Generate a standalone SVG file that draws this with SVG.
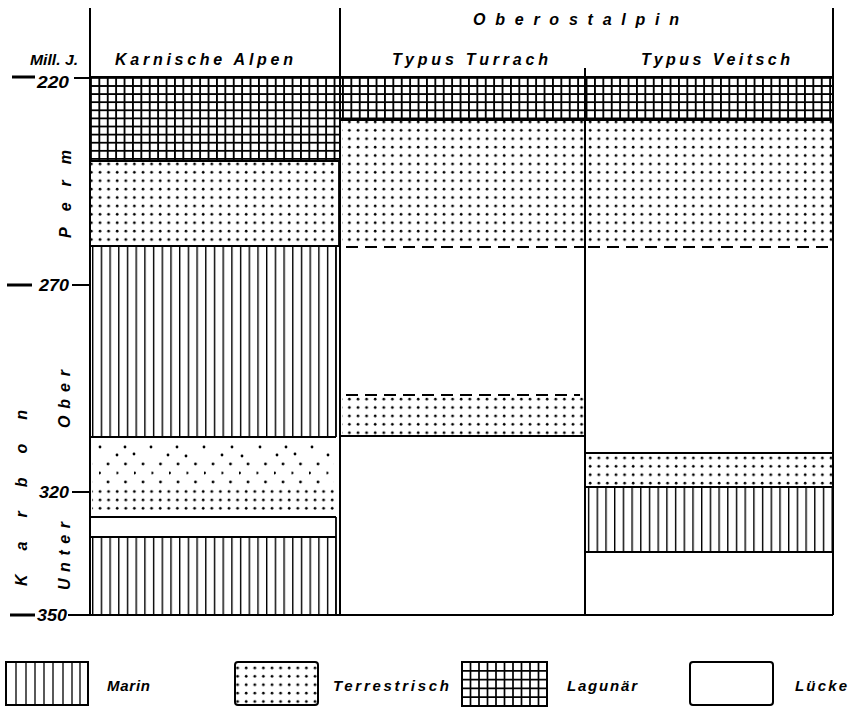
<svg xmlns="http://www.w3.org/2000/svg" width="849" height="707" viewBox="0 0 849 707">
<style>
.t{font-family:"Liberation Sans",Arial,sans-serif;font-weight:bold;font-style:italic;fill:#000}
.ln{stroke:#000;fill:none}
.frame{stroke:#000;stroke-width:2;fill:none}
.bd{stroke:#000;stroke-width:1.8;fill:none}
.dash{stroke:#000;stroke-width:2;stroke-dasharray:12 7;fill:none}
</style>
<defs>
<pattern id="lag" patternUnits="userSpaceOnUse" x="90" y="77" width="8.4" height="8.1">
<rect width="8.4" height="8.1" fill="#fff"/>
<path d="M0.9 0V8.1M0 0.9H8.4" stroke="#000" stroke-width="1.9"/>
</pattern>
<pattern id="mar" patternUnits="userSpaceOnUse" x="92" y="0" width="8.7" height="10">
<rect width="8.7" height="10" fill="#fff"/>
<path d="M0.7 0V10" stroke="#000" stroke-width="1.4"/>
</pattern>
<pattern id="ter" patternUnits="userSpaceOnUse" x="96" y="118" width="8.6" height="8.4">
<rect width="8.6" height="8.4" fill="#fff"/>
<circle cx="4" cy="4" r="1.35" fill="#000"/>
</pattern>
<pattern id="sparse" patternUnits="userSpaceOnUse" x="99" y="460" width="17.5" height="18">
<rect width="17.5" height="18" fill="#fff"/>
<circle cx="9" cy="4" r="1.4" fill="#000"/>
<circle cx="0.5" cy="13" r="1.4" fill="#000"/>
</pattern>
</defs>
<rect width="849" height="707" fill="#fff"/>

<g id="header">
<text class="t" x="30" y="65" font-size="15" textLength="48" lengthAdjust="spacingAndGlyphs">Mill. J.</text>
<text class="t" x="115" y="65" font-size="16" textLength="178" lengthAdjust="spacing">Karnische Alpen</text>
<text class="t" x="473" y="25" font-size="16" textLength="206" lengthAdjust="spacing">Oberostalpin</text>
<text class="t" x="392" y="65" font-size="16" textLength="156" lengthAdjust="spacing">Typus Turrach</text>
<text class="t" x="641" y="65" font-size="16" textLength="149" lengthAdjust="spacing">Typus Veitsch</text>
</g>

<g id="axis">
<path class="ln" stroke-width="3.2" d="M12 77H35M7 285H32M10 615H35"/>
<path class="ln" stroke-width="2.2" d="M74 78H90M72 285H90M72 492H90M68 615H90"/>
<text class="t" x="37" y="88" font-size="17" textLength="32" lengthAdjust="spacingAndGlyphs">220</text>
<text class="t" x="39" y="291" font-size="17" textLength="30" lengthAdjust="spacingAndGlyphs">270</text>
<text class="t" x="39" y="498" font-size="17" textLength="30" lengthAdjust="spacingAndGlyphs">320</text>
<text class="t" x="37" y="621" font-size="17" textLength="30" lengthAdjust="spacingAndGlyphs">350</text>
<text class="t" font-size="16" transform="translate(71 238) rotate(-90)" textLength="88" lengthAdjust="spacing">Perm</text>
<text class="t" font-size="16" transform="translate(27 586) rotate(-90)" textLength="176" lengthAdjust="spacing">Karbon</text>
<text class="t" font-size="16" transform="translate(70 428) rotate(-90)" textLength="58" lengthAdjust="spacing">Ober</text>
<text class="t" font-size="16" transform="translate(70 590) rotate(-90)" textLength="68" lengthAdjust="spacing">Unter</text>
</g>

<g id="col-karnische">
<rect x="90" y="77" width="250" height="84" fill="url(#lag)"/>
<rect x="90" y="161" width="249" height="85" fill="url(#ter)"/>
<rect x="90" y="246" width="246" height="191" fill="url(#mar)"/>
<rect x="90" y="437" width="246" height="80" fill="#fff"/>
<rect x="92" y="460" width="242" height="27" fill="url(#sparse)"/>
<g fill="#000">
<circle cx="100" cy="447" r="1.4"/><circle cx="125" cy="447" r="1.4"/><circle cx="151" cy="447" r="1.4"/><circle cx="177" cy="447" r="1.4"/><circle cx="204" cy="447" r="1.4"/><circle cx="232" cy="447" r="1.4"/><circle cx="260" cy="447" r="1.4"/><circle cx="286" cy="447" r="1.4"/><circle cx="312" cy="447" r="1.4"/>
<circle cx="117" cy="455" r="1.4"/><circle cx="134" cy="454" r="1.4"/><circle cx="168" cy="455" r="1.4"/><circle cx="186" cy="456" r="1.4"/><circle cx="222" cy="455" r="1.4"/><circle cx="242" cy="456" r="1.4"/><circle cx="277" cy="455" r="1.4"/><circle cx="295" cy="454" r="1.4"/><circle cx="328" cy="455" r="1.4"/>
</g>
<rect x="92" y="487" width="244" height="27" fill="url(#ter)"/>
<rect x="90" y="537" width="246" height="78" fill="url(#mar)"/>
<path class="bd" d="M90 161H339M90 246H339M90 437H336M90 517H336M90 537H336M336 246V437M336 517V615M339 161V246"/>
</g>

<g id="col-turrach">
<rect x="340" y="77" width="245" height="43" fill="url(#lag)"/>
<rect x="342" y="120" width="242" height="126" fill="url(#ter)"/>
<rect x="342" y="397" width="242" height="38" fill="url(#ter)"/>
<path class="bd" d="M340 120H585M340 436H585"/>
<path class="dash" d="M346 247H584M346 395H580"/>
</g>

<g id="col-veitsch">
<rect x="585" y="77" width="248" height="43" fill="url(#lag)"/>
<rect x="587" y="120" width="245" height="126" fill="url(#ter)"/>
<rect x="587" y="455" width="245" height="31" fill="url(#ter)"/>
<rect x="585" y="487" width="248" height="65" fill="url(#mar)"/>
<path class="bd" d="M585 120H833M585 453H833M585 487H833M585 552H833"/>
<path class="dash" d="M588 247H832"/>
</g>

<g id="connectors">
<path class="frame" d="M90 8V615M340 8V615M585 68V615M833 8V615M90 77H833M90 615H833"/>
</g>

<g id="legend">
<g id="leg-marin">
<rect x="6" y="662" width="82" height="43" fill="#fff" stroke="#000" stroke-width="2"/>
<path class="ln" stroke-width="1.3" d="M16 662V705M26 662V705M35 662V705M44 662V705M53 662V705M63 662V705M72 662V705M80 662V705"/>
<text class="t" x="107" y="691" font-size="15" textLength="43" lengthAdjust="spacing">Marin</text>
</g>
<g id="leg-terr">
<rect x="235" y="662" width="83" height="43" rx="3" fill="url(#ter)" stroke="#000" stroke-width="2"/>
<text class="t" x="333" y="691" font-size="15" textLength="116" lengthAdjust="spacing">Terrestrisch</text>
</g>
<g id="leg-lag">
<rect x="462" y="662" width="85" height="44" fill="#fff"/>
<path class="ln" stroke-width="1.7" d="M470.5 662V706M479 662V706M487.5 662V706M496 662V706M504.5 662V706M513 662V706M521.5 662V706M530 662V706M538.5 662V706M462 670.8H547M462 679.6H547M462 688.4H547M462 697.2H547"/>
<rect x="462" y="662" width="85" height="44" fill="none" stroke="#000" stroke-width="2"/>
<text class="t" x="567" y="691" font-size="15" textLength="70" lengthAdjust="spacing">Lagunär</text>
</g>
<g id="leg-luecke">
<rect x="690" y="662" width="83" height="43" rx="3" fill="#fff" stroke="#000" stroke-width="2"/>
<text class="t" x="795" y="691" font-size="15" textLength="52" lengthAdjust="spacing">Lücke</text>
</g>
</g>
</svg>
